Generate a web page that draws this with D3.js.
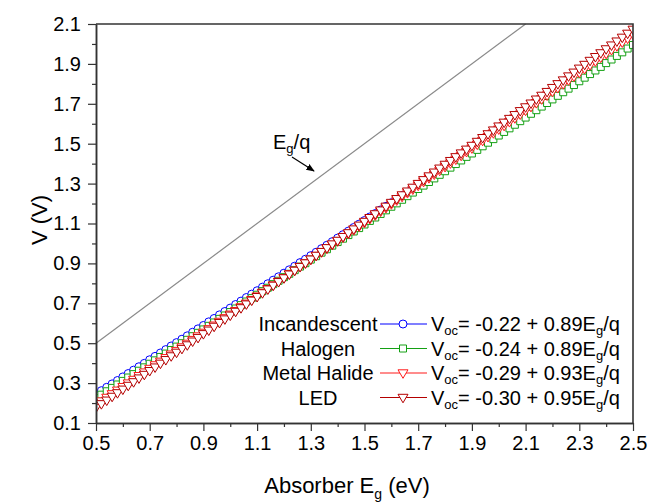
<!DOCTYPE html>
<html>
<head>
<meta charset="utf-8">
<script src="https://cdn.jsdelivr.net/npm/d3@7"></script>
<style>
    body { margin: 0; background: #fff; }
    svg text { font-family: "Liberation Sans", Arial, sans-serif; fill: #000; }
</style>
</head>
<body>
<svg id="chart" width="650" height="502"></svg>
<script>
// absorber band gap (eV), one point every 0.02 eV
const g_eg = [0.50, 0.52, 0.54, 0.56, 0.58, 0.60, 0.62, 0.64, 0.66, 0.68,
    0.70, 0.72, 0.74, 0.76, 0.78, 0.80, 0.82, 0.84, 0.86, 0.88,
    0.90, 0.92, 0.94, 0.96, 0.98, 1.00, 1.02, 1.04, 1.06, 1.08,
    1.10, 1.12, 1.14, 1.16, 1.18, 1.20, 1.22, 1.24, 1.26, 1.28,
    1.30, 1.32, 1.34, 1.36, 1.38, 1.40, 1.42, 1.44, 1.46, 1.48,
    1.50, 1.52, 1.54, 1.56, 1.58, 1.60, 1.62, 1.64, 1.66, 1.68,
    1.70, 1.72, 1.74, 1.76, 1.78, 1.80, 1.82, 1.84, 1.86, 1.88,
    1.90, 1.92, 1.94, 1.96, 1.98, 2.00, 2.02, 2.04, 2.06, 2.08,
    2.10, 2.12, 2.14, 2.16, 2.18, 2.20, 2.22, 2.24, 2.26, 2.28,
    2.30, 2.32, 2.34, 2.36, 2.38, 2.40, 2.42, 2.44, 2.46, 2.48,
    2.50];
// Voc (V)
const g_incand = [0.245, 0.262, 0.279, 0.296, 0.313, 0.331, 0.348, 0.365, 0.382, 0.399,
    0.417, 0.434, 0.451, 0.468, 0.486, 0.503, 0.520, 0.537, 0.555, 0.572,
    0.589, 0.607, 0.624, 0.642, 0.659, 0.676, 0.694, 0.711, 0.729, 0.746,
    0.763, 0.781, 0.798, 0.816, 0.833, 0.851, 0.868, 0.886, 0.904, 0.921,
    0.939, 0.956, 0.974, 0.991, 1.009, 1.027, 1.044, 1.062, 1.080, 1.097,
    1.115, 1.133, 1.150, 1.168, 1.186, 1.204, 1.221, 1.239, 1.257, 1.275,
    1.293, 1.310, 1.328, 1.346, 1.364, 1.382, 1.400, 1.418, 1.436, 1.454,
    1.471, 1.489, 1.507, 1.525, 1.543, 1.561, 1.579, 1.597, 1.615, 1.633,
    1.651, 1.670, 1.688, 1.706, 1.724, 1.742, 1.760, 1.778, 1.796, 1.814,
    1.833, 1.851, 1.869, 1.887, 1.905, 1.924, 1.942, 1.960, 1.978, 1.997,
    2.015];
const g_halogen = [0.225, 0.242, 0.259, 0.276, 0.293, 0.311, 0.328, 0.345, 0.362, 0.379,
    0.397, 0.414, 0.431, 0.448, 0.466, 0.483, 0.500, 0.517, 0.535, 0.552,
    0.569, 0.587, 0.604, 0.622, 0.639, 0.656, 0.674, 0.691, 0.709, 0.726,
    0.743, 0.761, 0.778, 0.796, 0.813, 0.831, 0.848, 0.866, 0.884, 0.901,
    0.919, 0.936, 0.954, 0.971, 0.989, 1.007, 1.024, 1.042, 1.060, 1.077,
    1.095, 1.113, 1.130, 1.148, 1.166, 1.184, 1.201, 1.219, 1.237, 1.255,
    1.273, 1.290, 1.308, 1.326, 1.344, 1.362, 1.380, 1.398, 1.416, 1.434,
    1.451, 1.469, 1.487, 1.505, 1.523, 1.541, 1.559, 1.577, 1.595, 1.613,
    1.631, 1.650, 1.668, 1.686, 1.704, 1.722, 1.740, 1.758, 1.776, 1.794,
    1.813, 1.831, 1.849, 1.867, 1.885, 1.904, 1.922, 1.940, 1.958, 1.977,
    1.995];
const g_metal = [0.193, 0.210, 0.228, 0.246, 0.264, 0.282, 0.300, 0.318, 0.337, 0.355,
    0.373, 0.391, 0.409, 0.427, 0.445, 0.463, 0.481, 0.499, 0.518, 0.536,
    0.554, 0.572, 0.590, 0.609, 0.627, 0.645, 0.663, 0.682, 0.700, 0.718,
    0.736, 0.755, 0.773, 0.791, 0.810, 0.828, 0.847, 0.865, 0.883, 0.902,
    0.920, 0.939, 0.957, 0.975, 0.994, 1.012, 1.031, 1.049, 1.068, 1.086,
    1.105, 1.124, 1.142, 1.161, 1.179, 1.198, 1.217, 1.235, 1.254, 1.272,
    1.291, 1.310, 1.329, 1.347, 1.366, 1.385, 1.403, 1.422, 1.441, 1.460,
    1.478, 1.497, 1.516, 1.535, 1.554, 1.573, 1.591, 1.610, 1.629, 1.648,
    1.667, 1.686, 1.705, 1.724, 1.743, 1.762, 1.781, 1.800, 1.819, 1.838,
    1.857, 1.876, 1.895, 1.914, 1.933, 1.952, 1.971, 1.990, 2.009, 2.028,
    2.048];
const g_led = [0.178, 0.196, 0.214, 0.233, 0.251, 0.269, 0.288, 0.306, 0.325, 0.343,
    0.362, 0.380, 0.399, 0.417, 0.436, 0.454, 0.473, 0.491, 0.510, 0.528,
    0.547, 0.565, 0.584, 0.603, 0.621, 0.640, 0.659, 0.677, 0.696, 0.715,
    0.733, 0.752, 0.771, 0.790, 0.808, 0.827, 0.846, 0.865, 0.884, 0.902,
    0.921, 0.940, 0.959, 0.978, 0.997, 1.015, 1.034, 1.053, 1.072, 1.091,
    1.110, 1.129, 1.148, 1.167, 1.186, 1.205, 1.224, 1.243, 1.262, 1.281,
    1.300, 1.319, 1.338, 1.357, 1.377, 1.396, 1.415, 1.434, 1.453, 1.472,
    1.491, 1.511, 1.530, 1.549, 1.568, 1.588, 1.607, 1.626, 1.645, 1.665,
    1.684, 1.703, 1.723, 1.742, 1.761, 1.781, 1.800, 1.819, 1.839, 1.858,
    1.878, 1.897, 1.917, 1.936, 1.955, 1.975, 1.994, 2.014, 2.033, 2.053,
    2.073];
const g_names = ["Incandescent", "Halogen", "Metal Halide", "LED"];
const g_icpt = ["-0.22", "-0.24", "-0.29", "-0.30"]; // fit intercepts in legend
const g_slope = ["0.89", "0.89", "0.93", "0.95"];    // fit slopes in legend
const g_ideal = [0.5, 2.1]; // Eg/q line end points (x = y)
const g_xticks = [0.5, 0.7, 0.9, 1.1, 1.3, 1.5, 1.7, 1.9, 2.1, 2.3, 2.5];
const g_xminor = [0.6, 0.8, 1.0, 1.2, 1.4, 1.6, 1.8, 2.0, 2.2, 2.4];
const g_yticks = [0.1, 0.3, 0.5, 0.7, 0.9, 1.1, 1.3, 1.5, 1.7, 1.9, 2.1];
const g_yminor = [0.2, 0.4, 0.6, 0.8, 1.0, 1.2, 1.4, 1.6, 1.8, 2.0];

const g_box = { l: 96, r: 633, t: 24, b: 423 };
const g_colors = ["#0000ff", "#14a014", "#ff1a1a", "#b40000"];
const g_syms = ["M-4,0A4,4 0 1,0 4,0A4,4 0 1,0 -4,0Z",   // circle
                "M-3.5,-3.5H3.5V3.5H-3.5Z",               // square
                "M-5,-3.2H5L0,5.3Z",                      // down triangle
                "M-5,-3.2H5L0,5.3Z"];

const svg = d3.select("#chart");
const xs = d3.scaleLinear().domain([0.5, 2.5]).range([g_box.l, g_box.r]);
const ys = d3.scaleLinear().domain([0.1, 2.1]).range([g_box.b, g_box.t]);

// clip for data
svg.append("defs").append("clipPath").attr("id", "clip")
    .append("rect").attr("x", g_box.l).attr("y", g_box.t)
    .attr("width", g_box.r - g_box.l).attr("height", g_box.b - g_box.t);

// Eg/q line
svg.append("line")
    .attr("x1", xs(g_ideal[0])).attr("y1", ys(g_ideal[0]))
    .attr("x2", xs(g_ideal[1])).attr("y2", ys(g_ideal[1]))
    .attr("style", "stroke:#8a8a8a; stroke-width:1.2");

// series
const series = [g_incand, g_halogen, g_metal, g_led].map((v, i) =>
    ({ idx: i, pts: g_eg.map((e, j) => [e, v[j]]) }));
const plot = svg.append("g").attr("clip-path", "url(#clip)");
const line = d3.line().x(d => xs(d[0])).y(d => ys(d[1]));
series.forEach(s => {
    plot.append("path").datum(s.pts).attr("d", line)
        .attr("style", "fill:none; stroke-width:1.2; stroke:" + g_colors[s.idx]);
    plot.selectAll(".m" + s.idx).data(s.pts).join("path").classed("m" + s.idx, true)
        .attr("d", g_syms[s.idx])
        .attr("transform", d => "translate(" + xs(d[0]) + "," + ys(d[1]) + ")")
        .attr("style", "fill:#fff; stroke-width:1; stroke:" + g_colors[s.idx]);
});

// axes
const ax_style = sel => {
    sel.select(".domain").attr("stroke", "#333").attr("stroke-width", 1.5);
    sel.selectAll(".tick line").attr("stroke", "#333").attr("stroke-width", 1.2);
    sel.selectAll(".tick text").attr("font-size", 20).attr("fill", "#000");
};
svg.append("g").attr("transform", "translate(0," + g_box.b + ")")
    .call(d3.axisBottom(xs).tickValues(g_xminor).tickSize(4).tickFormat("").tickSizeOuter(0)).call(ax_style);
svg.append("g").attr("transform", "translate(0," + g_box.b + ")")
    .call(d3.axisBottom(xs).tickValues(g_xticks).tickSize(8).tickPadding(5)
        .tickFormat(d3.format(".1f")).tickSizeOuter(0)).call(ax_style);
svg.append("g").attr("transform", "translate(" + g_box.l + ",0)")
    .call(d3.axisLeft(ys).tickValues(g_yminor).tickSize(4).tickFormat("").tickSizeOuter(0)).call(ax_style);
svg.append("g").attr("transform", "translate(" + g_box.l + ",0)")
    .call(d3.axisLeft(ys).tickValues(g_yticks).tickSize(8).tickPadding(7)
        .tickFormat(d3.format(".1f")).tickSizeOuter(0)).call(ax_style);
// top and right frame
svg.append("path")
    .attr("d", "M" + g_box.l + "," + g_box.t + "H" + g_box.r + "V" + g_box.b)
    .attr("style", "fill:none; stroke:#333; stroke-width:1.6");

// axis titles
const xt = svg.append("text").attr("x", 347).attr("y", 493)
    .attr("text-anchor", "middle").attr("font-size", 22);
xt.append("tspan").text("Absorber E");
xt.append("tspan").attr("font-size", 14).attr("dy", 6).text("g");
xt.append("tspan").attr("dy", -6).text(" (eV)");
svg.append("text").attr("transform", "translate(47,220) rotate(-90)")
    .attr("text-anchor", "middle").attr("font-size", 22).text("V (V)");

// Eg/q annotation
const lb = svg.append("text").attr("x", 273).attr("y", 149).attr("font-size", 20);
lb.append("tspan").text("E");
lb.append("tspan").attr("font-size", 13).attr("dy", 4).text("g");
lb.append("tspan").attr("dy", -4).text("/q");
svg.append("defs").append("marker").attr("id", "arrow")
    .attr("viewBox", "0 0 10 10").attr("refX", 9).attr("refY", 5)
    .attr("markerWidth", 7).attr("markerHeight", 7).attr("orient", "auto")
    .append("path").attr("d", "M0,1L10,5L0,9Z").attr("fill", "#000");
svg.append("line").attr("x1", 292).attr("y1", 157).attr("x2", 314).attr("y2", 171)
    .attr("style", "stroke:#000; stroke-width:1.2").attr("marker-end", "url(#arrow)");

// legend
const lg = svg.append("g");
const rows = [324, 348.5, 373, 397.5];
g_names.forEach((nm, i) => {
    const yy = rows[i];
    lg.append("text").attr("x", 318).attr("y", yy + 7).attr("text-anchor", "middle")
        .attr("font-size", 20).text(nm);
    lg.append("line").attr("x1", 380).attr("x2", 427).attr("y1", yy).attr("y2", yy)
        .attr("style", "stroke-width:1.2; stroke:" + g_colors[i]);
    lg.append("path").attr("d", g_syms[i]).attr("transform", "translate(403," + yy + ")")
        .attr("style", "fill:#fff; stroke-width:1; stroke:" + g_colors[i]);
    const t = lg.append("text").attr("x", 431).attr("y", yy + 7).attr("font-size", 20);
    t.append("tspan").text("V");
    t.append("tspan").attr("font-size", 13).attr("dy", 4).text("oc");
    t.append("tspan").attr("dy", -4).text("= " + g_icpt[i] + " + " + g_slope[i] + "E");
    t.append("tspan").attr("font-size", 13).attr("dy", 4).text("g");
    t.append("tspan").attr("dy", -4).text("/q");
});
</script>
</body>
</html>
